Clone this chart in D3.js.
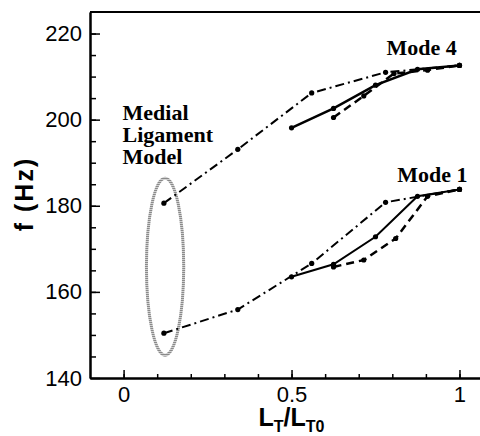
<!DOCTYPE html>
<html lang="en">
<head>
<meta charset="UTF-8">
<title>Mode frequencies</title>
<script src="https://d3js.org/d3.v7.min.js"></script>
<style>
    body { margin: 0; background: #fff; }
    .axis text { font-family: "Liberation Sans", Arial, sans-serif; font-size: 22px; fill: #000; }
    .axis path, .axis line { stroke: #000; }
    .axis path { stroke-width: 2px; }
    .axis line { stroke-width: 1.5px; }
    .note { font-family: "Liberation Serif", "Times New Roman", serif; font-weight: bold; font-size: 22px; }
    .title { font-family: "Liberation Sans", Arial, sans-serif; font-weight: bold; }
</style>
</head>
<body>
<svg id="chart" width="480" height="436"></svg>
<script>
    // L_T / L_T0 ratios and frequencies (Hz)
    const mode4SolidX = [0.5, 0.625, 0.75, 0.875, 1.0];
    const mode4SolidF = [198.1, 202.6, 208.0, 211.7, 212.6];
    const mode4DashX = [0.625, 0.715, 0.805, 0.905, 1.0];
    const mode4DashF = [200.5, 205.5, 210.7, 211.5, 212.6];
    const mode4DotX = [0.12, 0.34, 0.56, 0.78, 1.0];
    const mode4DotF = [180.6, 193.1, 206.2, 211.0, 212.6];

    const mode1SolidX = [0.5, 0.625, 0.75, 0.875, 1.0];
    const mode1SolidF = [163.5, 166.4, 172.8, 182.2, 183.8];
    const mode1DashX = [0.625, 0.715, 0.81, 0.905, 1.0];
    const mode1DashF = [165.8, 167.4, 172.4, 182.2, 183.8];
    const mode1DotX = [0.12, 0.34, 0.56, 0.78, 1.0];
    const mode1DotF = [150.4, 155.9, 166.6, 180.8, 183.8];

    // the ring round the medial ligament points
    const ringX = [0.068, 0.179];
    const ringF = [145.3, 186.4];

    const xMajor = [0, 0.5, 1];
    const yMajor = [140, 160, 180, 200, 220];

    const svg = d3.select('#chart');
    const x = d3.scaleLinear().domain([-0.1, 1.07]).range([90, 483]);
    const y = d3.scaleLinear().domain([140, 225]).range([378, 12]);

    const defs = svg.append('defs');
    const hatch = defs.append('pattern')
        .attr('id', 'hatch')
        .attr('patternUnits', 'userSpaceOnUse')
        .attr('width', 4).attr('height', 2);
    hatch.append('rect').attr('width', 4).attr('height', 2).attr('fill', '#cfcfcf');
    hatch.append('rect').attr('width', 4).attr('height', 1).attr('fill', '#8a8a8a');

    // frame top
    svg.append('line')
        .attr('x1', x(-0.1)).attr('x2', x(1.07))
        .attr('y1', y(225)).attr('y2', y(225))
        .attr('stroke', '#000').attr('stroke-width', 2);

    // minor ticks
    svg.append('g').attr('class', 'axis')
        .attr('transform', `translate(0,${y(140)})`)
        .call(d3.axisBottom(x).tickValues(d3.range(0, 11).map(i => i / 10)).tickSize(-4).tickSizeOuter(0).tickFormat(''));
    svg.append('g').attr('class', 'axis')
        .attr('transform', `translate(${x(-0.1)},0)`)
        .call(d3.axisLeft(y).tickValues(d3.range(145, 225, 5)).tickSize(-6).tickSizeOuter(0).tickFormat(''));

    // major ticks + labels
    svg.append('g').attr('class', 'axis')
        .attr('transform', `translate(0,${y(140)})`)
        .call(d3.axisBottom(x).tickValues(xMajor).tickSize(-8).tickSizeOuter(0).tickPadding(8).tickFormat(d3.format('')));
    svg.append('g').attr('class', 'axis')
        .attr('transform', `translate(${x(-0.1)},0)`)
        .call(d3.axisLeft(y).tickValues(yMajor).tickSize(-10).tickSizeOuter(0).tickPadding(8));

    // ellipse
    svg.append('ellipse')
        .attr('cx', x((ringX[0] + ringX[1]) / 2))
        .attr('cy', y((ringF[0] + ringF[1]) / 2))
        .attr('rx', (x(ringX[1]) - x(ringX[0])) / 2)
        .attr('ry', (y(ringF[0]) - y(ringF[1])) / 2)
        .attr('fill', 'none')
        .attr('stroke', 'url(#hatch)')
        .attr('stroke-width', 3);

    const series = [
        { xs: mode4DotX, fs: mode4DotF, dash: '9,4,2,4', w: 2 },
        { xs: mode4DashX, fs: mode4DashF, dash: '8,5', w: 2.5 },
        { xs: mode4SolidX, fs: mode4SolidF, dash: null, w: 2.5 },
        { xs: mode1DotX, fs: mode1DotF, dash: '9,4,2,4', w: 2 },
        { xs: mode1DashX, fs: mode1DashF, dash: '8,5', w: 2.5 },
        { xs: mode1SolidX, fs: mode1SolidF, dash: null, w: 2 }
    ];

    const line = d3.line().x(d => x(d[0])).y(d => y(d[1]));

    series.forEach(s => {
        const pts = s.xs.map((v, i) => [v, s.fs[i]]);
        svg.append('path')
            .datum(pts)
            .attr('d', line)
            .attr('fill', 'none')
            .attr('stroke', '#000')
            .attr('stroke-width', s.w)
            .attr('stroke-dasharray', s.dash);
        svg.append('g').selectAll('circle')
            .data(pts)
            .join('circle')
            .attr('cx', d => x(d[0]))
            .attr('cy', d => y(d[1]))
            .attr('r', 2.6)
            .attr('fill', '#000');
    });

    // labels
    svg.append('text').attr('class', 'note')
        .attr('x', x(0.783)).attr('y', y(215.0)).text('Mode 4');
    svg.append('text').attr('class', 'note')
        .attr('x', x(0.815)).attr('y', y(185.6)).text('Mode 1');
    const medial = svg.append('text').attr('class', 'note')
        .attr('x', x(-0.003)).attr('y', y(199.9));
    ['Medial', 'Ligament', 'Model'].forEach((t, i) => {
        medial.append('tspan').attr('x', x(-0.003)).attr('dy', i === 0 ? 0 : 22).text(t);
    });

    // axis titles
    svg.append('text').attr('class', 'title')
        .attr('transform', 'translate(33,194) rotate(-90)')
        .attr('text-anchor', 'middle')
        .attr('font-size', 25)
        .attr('letter-spacing', 2)
        .text('f (Hz)');

    const xt = svg.append('text').attr('class', 'title')
        .attr('x', x(0.5)).attr('y', 426)
        .attr('text-anchor', 'middle')
        .attr('font-size', 25);
    xt.append('tspan').text('L');
    xt.append('tspan').attr('font-size', 16).attr('dy', 6).text('T');
    xt.append('tspan').attr('dy', -6).text('/L');
    xt.append('tspan').attr('font-size', 16).attr('dy', 6).text('T0');
</script>
</body>
</html>
